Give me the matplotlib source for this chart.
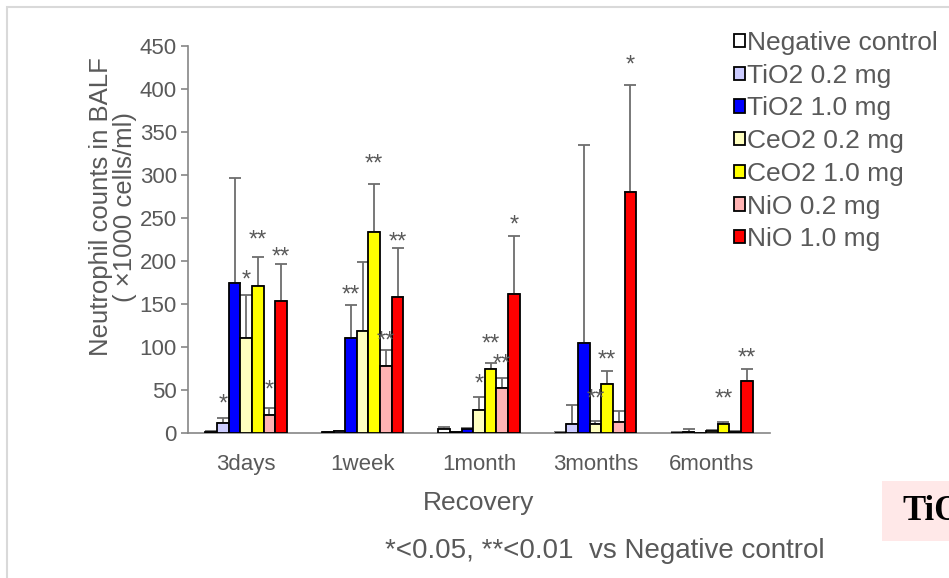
import numpy as np
import matplotlib
matplotlib.use('Agg')
import matplotlib.pyplot as plt
from matplotlib.patches import Rectangle

plt.rcParams['font.family'] = ['Liberation Sans', 'DejaVu Sans']

# 数据
##################################################
categories = ['3days', '1week', '1month', '3months', '6months']
series = ['Negative control', 'TiO2 0.2 mg', 'TiO2 1.0 mg', 'CeO2 0.2 mg',
          'CeO2 1.0 mg', 'NiO 0.2 mg', 'NiO 1.0 mg']
colors = ['#FFFFFF', '#CCCCFF', '#0000FF', '#FFFFBF', '#FFFF00', '#FFB3B3', '#FF0000']

neg = [1.5, 1, 4.5, 0.5, 0.5]
tio2_02 = [12, 2, 1, 10.5, 1]
tio2_10 = [175, 110, 4.5, 105, 0.5]
ceo2_02 = [111, 119, 27, 10.5, 2.5]
ceo2_10 = [171, 234, 74, 56.5, 10.5]
nio_02 = [21, 78, 52, 12.5, 1.5]
nio_10 = [153, 158, 162, 280, 60]

neg_err = [1, 0.5, 2.5, 0.5, 0.5]
tio2_02_err = [5, 0.5, 0.5, 22.5, 3.5]
tio2_10_err = [121, 39, 1, 230, 0]
ceo2_02_err = [49, 80, 15, 3, 1]
ceo2_10_err = [34, 55, 7, 15.5, 2]
nio_02_err = [8.5, 19, 12, 13, 0.5]
nio_10_err = [44, 57, 67, 125, 15]

means = [neg, tio2_02, tio2_10, ceo2_02, ceo2_10, nio_02, nio_10]
errs = [neg_err, tio2_02_err, tio2_10_err, ceo2_02_err, ceo2_10_err, nio_02_err, nio_10_err]

# 显著性标记 (组, 系列, 标记, 高度)
stars = [(0, 1, '*', 42), (0, 3, '*', 186), (0, 4, '**', 233), (0, 5, '*', 58), (0, 6, '**', 213),
         (1, 2, '**', 169), (1, 4, '**', 321), (1, 5, '**', 116), (1, 6, '**', 231),
         (2, 3, '*', 65), (2, 4, '**', 112), (2, 5, '**', 89), (2, 6, '*', 250),
         (3, 3, '**', 48), (3, 4, '**', 94), (3, 6, '*', 436),
         (4, 4, '**', 48), (4, 6, '**', 96)]
##################################################

gray = '#595959'
W, H = 949, 578
fig = plt.figure(figsize=(W / 100, H / 100), dpi=100)
ax = fig.add_axes([188 / W, (H - 433) / H, (770 - 188) / W, (433 - 46) / H])

# 画图
##################################################
x = np.arange(len(categories))
w = 0.1
for i in range(len(series)):
    xi = x + (i - 3) * w
    ax.bar(xi, means[i], w, color=colors[i], edgecolor='black', linewidth=1.3,
           label=series[i], zorder=3)
    ax.errorbar(xi, means[i], yerr=[np.zeros(len(x)), errs[i]], fmt='none',
                ecolor='#6d6d6d', elinewidth=1.3, capsize=4, capthick=1.3, zorder=2)

for g, s, lab, yv in stars:
    ax.annotate(lab, (x[g] + (s - 3) * w, yv), xytext=(0, -10), textcoords='offset points',
                ha='center', va='baseline', fontsize=17, color=gray)

ax.set_xlim(-0.5, 4.5)
ax.set_ylim(0, 450)
ax.set_yticks(np.arange(0, 451, 50))
ax.set_xticks(x)
ax.set_xticklabels(categories)
for sp in ['top', 'right']:
    ax.spines[sp].set_visible(False)
for sp in ['left', 'bottom']:
    ax.spines[sp].set_color('#868686')
    ax.spines[sp].set_linewidth(1.2)
ax.tick_params(axis='x', length=0, pad=15, labelsize=16, labelcolor=gray)
ax.tick_params(axis='y', length=5, width=1.2, color='#868686', pad=3, labelsize=16, labelcolor=gray)

ax.set_xlabel('Recovery', fontsize=19, color=gray, va='center')
ax.xaxis.set_label_coords(0.5, -70 / 387)
ax.set_ylabel('Neutrophil counts in BALF\n( ×1000 cells/ml)', fontsize=18.5, color=gray,
              va='center', ha='center', multialignment='center', linespacing=1.0)
ax.yaxis.set_label_coords(-75 / 582, (433 - 207) / 387)

leg = ax.legend(loc='upper left', bbox_to_anchor=(734 / W, 1 - 31 / H),
                bbox_transform=fig.transFigure, frameon=False, fontsize=19,
                handlelength=0.4, handleheight=0.4, handletextpad=0.1,
                labelspacing=0.33, borderpad=0, borderaxespad=0)
for t in leg.get_texts():
    t.set_color(gray)

fig.text(605 / W, 1 - 551 / H, '*<0.05, **<0.01  vs Negative control',
         ha='center', va='center', fontsize=20, color=gray)

# 外框与右下角标签
fig.add_artist(Rectangle((7 / W, -0.1), 2, 1 - 7 / H + 0.1, transform=fig.transFigure,
                         fill=False, edgecolor='#d9d9d9', linewidth=1.5))
fig.add_artist(Rectangle((882 / W, 1 - 541 / H), 0.2, 60 / H, transform=fig.transFigure,
                         facecolor='#FFE8E8', edgecolor='none'))
fig.text(902 / W, 1 - 520 / H, 'TiO2', ha='left', va='baseline', fontsize=25,
         fontweight='bold', family='Liberation Serif', color='black')
##################################################

fig.savefig('out.png', dpi=100)
